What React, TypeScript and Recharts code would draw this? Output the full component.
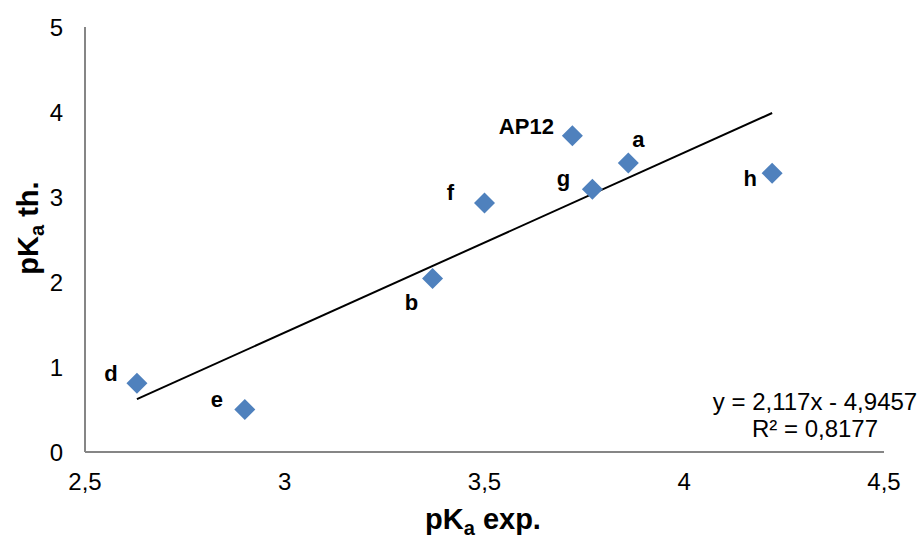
import React from 'react';
import { ScatterChart, Scatter, XAxis, YAxis, ReferenceLine, Label } from 'recharts';

const names = ['d', 'e', 'b', 'f', 'AP12', 'g', 'a', 'h'];
const pKaExp = [2.63, 2.9, 3.37, 3.5, 3.72, 3.77, 3.86, 4.22];
const pKaTh = [0.81, 0.5, 2.04, 2.93, 3.72, 3.09, 3.4, 3.28];
const xTicks = [2.5, 3, 3.5, 4, 4.5];
const yTicks = [0, 1, 2, 3, 4, 5];
const slope = 2.117;
const intercept = -4.9457;
const r2 = '0,8177';

const data = names.map((n, i) => ({ name: n, x: pKaExp[i], y: pKaTh[i] }));

const labelOffsets: Record<string, [number, number]> = {
  d: [-26, -10],
  e: [-28, -10],
  b: [-21, 24],
  f: [-34, -10],
  AP12: [-46, -9],
  g: [-29, -11],
  a: [10, -24],
  h: [-22, 5],
};

const FONT = '"Liberation Sans", Arial, sans-serif';
const COLOR = '#4F81BD';

const Diamond = (props: any) => {
  const { cx, cy, payload } = props;
  const r = 10.5;
  const off = labelOffsets[payload.name] || [0, -15];
  return (
    <g>
      <polygon
        points={`${cx},${cy - r} ${cx + r},${cy} ${cx},${cy + r} ${cx - r},${cy}`}
        fill={COLOR}
      />
      <text
        x={cx + off[0]}
        y={cy + off[1]}
        textAnchor="middle"
        dominantBaseline="central"
        fontFamily={FONT}
        fontWeight="bold"
        fontSize={22}
        fill="#000"
      >
        {payload.name}
      </text>
    </g>
  );
};

const fmt = (v: number) => String(v).replace('.', ',');

const xMin = Math.min(...pKaExp);
const xMax = Math.max(...pKaExp);
const trend = [
  { x: xMin, y: slope * xMin + intercept },
  { x: xMax, y: slope * xMax + intercept },
];

export default function App() {
  return (
    <div style={{ position: 'absolute', left: 0, top: 0, width: 924, height: 538, background: '#fff' }}>
      <ScatterChart width={924} height={538} margin={{ top: 27, right: 40, bottom: 46, left: 25 }}>
        <XAxis
          type="number"
          dataKey="x"
          domain={[2.5, 4.5]}
          ticks={xTicks}
          tickFormatter={fmt}
          tickLine={false}
          tickMargin={15}
          height={40}
          axisLine={{ stroke: '#868686', strokeWidth: 2 }}
          tick={{ fill: '#000', fontSize: 24, fontFamily: FONT }}
          interval={0}
        >
          <Label
            content={() => (
              <text x={483} y={529} textAnchor="middle" fontFamily={FONT} fontWeight="bold" fontSize={29} fill="#000">
                pK<tspan fontSize={20} dy={6}>a</tspan>
                <tspan dy={-6}> exp.</tspan>
              </text>
            )}
          />
        </XAxis>
        <YAxis
          type="number"
          dataKey="y"
          domain={[0, 5]}
          ticks={yTicks}
          tickLine={false}
          tickMargin={16}
          width={60}
          axisLine={{ stroke: '#868686', strokeWidth: 2 }}
          tick={{ fill: '#000', fontSize: 24, fontFamily: FONT }}
          interval={0}
        >
          <Label
            content={() => (
              <text
                x={0}
                y={0}
                transform="translate(38,228) rotate(-90)"
                textAnchor="middle"
                fontFamily={FONT}
                fontWeight="bold"
                fontSize={29}
                fill="#000"
              >
                pK<tspan fontSize={20} dy={6}>a</tspan>
                <tspan dy={-6}> th.</tspan>
              </text>
            )}
          />
        </YAxis>
        <ReferenceLine
          segment={trend}
          stroke="#000"
          strokeWidth={2}
          ifOverflow="visible"
          label={{
            content: () => (
              <g fontFamily={FONT} fontSize={24} fill="#000">
                <text x={815} y={401} textAnchor="middle" dominantBaseline="central">
                  {`y = ${fmt(slope)}x - ${fmt(-intercept)}`}
                </text>
                <text x={815} y={428} textAnchor="middle" dominantBaseline="central">
                  {`R² = ${r2}`}
                </text>
              </g>
            ),
          }}
        />
        <Scatter data={data} shape={<Diamond />} isAnimationActive={false} />
      </ScatterChart>
    </div>
  );
}
